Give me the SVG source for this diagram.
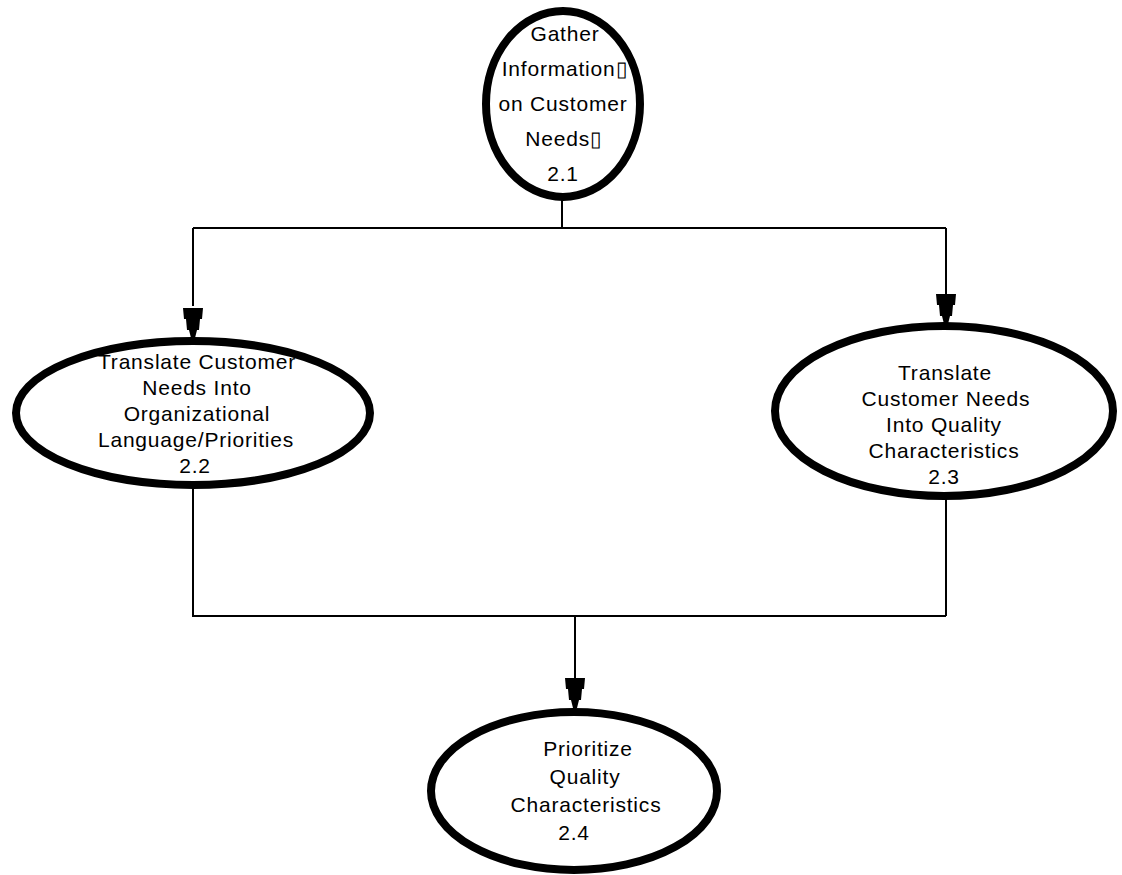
<svg xmlns="http://www.w3.org/2000/svg" width="1122" height="875" viewBox="0 0 1122 875">
<style>
.node ellipse{fill:#fff;stroke:#000;stroke-width:8}
.node text{font-family:"Liberation Sans",Arial,sans-serif;font-size:21px;fill:#000;text-anchor:middle;letter-spacing:0.8px}
.conn path{fill:none;stroke:#000;stroke-width:2}
.ah{fill:#000}
</style>
<defs>
<path id="arrow" class="ah" d="M-10,0 H10 L9,11 H7 L6,22 H4 L2,30 H-2 L-4,22 H-6 L-7,11 H-9 Z"/>
</defs>
<rect width="1122" height="875" fill="#fff"/>
<g id="connectors" class="conn">
<path d="M562,200 V228"/>
<path d="M193,228 H946"/>
<path d="M193,228 V306"/>
<path d="M946,228 V296"/>
<path d="M193,484 V616 H946"/>
<path d="M946,496 V616"/>
<path d="M575,616 V680"/>
<use href="#arrow" x="193" y="308"/>
<use href="#arrow" x="946" y="294"/>
<use href="#arrow" x="575" y="678"/>
</g>
<g id="node-2-1" class="node">
<ellipse cx="563" cy="104" rx="77" ry="93"/>
<text x="565" y="41">Gather</text>
<text x="565" y="76">Information▯</text>
<text x="563" y="111">on Customer</text>
<text x="564" y="146">Needs▯</text>
<text x="563" y="181">2.1</text>
</g>
<g id="node-2-2" class="node">
<ellipse cx="193" cy="413" rx="177" ry="72"/>
<text x="197" y="369">Translate Customer</text>
<text x="197" y="395">Needs Into</text>
<text x="197" y="421">Organizational</text>
<text x="196" y="447">Language/Priorities</text>
<text x="195" y="473">2.2</text>
</g>
<g id="node-2-3" class="node">
<ellipse cx="944" cy="411" rx="169" ry="85"/>
<text x="945" y="380">Translate</text>
<text x="946" y="406">Customer Needs</text>
<text x="944" y="432">Into Quality</text>
<text x="944" y="458">Characteristics</text>
<text x="944" y="484">2.3</text>
</g>
<g id="node-2-4" class="node">
<ellipse cx="574" cy="791" rx="143" ry="79"/>
<text x="588" y="756">Prioritize</text>
<text x="585" y="784">Quality</text>
<text x="586" y="812">Characteristics</text>
<text x="574" y="840">2.4</text>
</g>
</svg>
